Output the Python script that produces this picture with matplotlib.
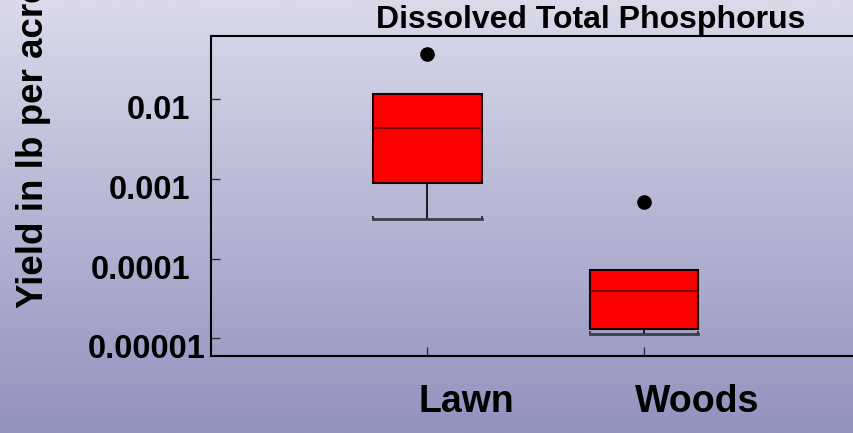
import numpy as np
import matplotlib
matplotlib.use("Agg")
import matplotlib.pyplot as plt
import matplotlib.transforms as mtransforms
from matplotlib.path import Path

plt.rcParams["font.family"] = ["Liberation Sans", "DejaVu Sans"]
plt.rcParams["font.weight"] = "bold"

# Box-plot summaries (lb per acre)
categories = ["Lawn", "Woods"]
q1 = [0.000877, 0.0000132]
median = [0.00437, 0.0000392]
q3 = [0.01165, 0.0000713]
whisker_low = [0.000313, 0.0000113]
whisker_high = [0.01165, 0.0000713]
outliers = [[0.0363], [0.000507]]

ytick_values = [0.00001, 0.0001, 0.001, 0.01]
ytick_labels = ["0.00001", "0.0001", "0.001", "0.01"]

W, H, DPI = 854, 433, 100
fig = plt.figure(figsize=(W / DPI, H / DPI), dpi=DPI)

# vertical lavender gradient background
bg = fig.add_axes([0, 0, 1, 1], zorder=-10)
top_c = np.array([218, 218, 235]) / 255
bot_c = np.array([146, 146, 190]) / 255
t = np.linspace(0, 1, 256)[:, None]
grad = top_c[None, :] * (1 - t) + bot_c[None, :] * t
bg.imshow(grad[:, None, :], aspect="auto", extent=[0, 1, 0, 1], origin="upper")
bg.set_axis_off()

ax = fig.add_axes([211 / W, 1 - 356 / H, 649.5 / W, 320 / H])
ax.set_facecolor("none")

positions = np.arange(1, len(categories) + 1)
stats = []
for i, name in enumerate(categories):
    stats.append(dict(label=name, med=median[i], q1=q1[i], q3=q3[i],
                      whislo=whisker_low[i], whishi=whisker_high[i],
                      fliers=outliers[i]))

res = ax.bxp(stats, positions=positions, widths=0.5, capwidths=0.5,
             patch_artist=True, showfliers=True,
             boxprops=dict(facecolor="#ff0000", edgecolor="#1a0000", linewidth=1.5),
             medianprops=dict(color="#7a0000", linewidth=1.5),
             whiskerprops=dict(color="black", linewidth=1.2),
             capprops=dict(color="#3c3c48", linewidth=2.0),
             flierprops=dict(marker="o", markerfacecolor="black",
                             markeredgecolor="black", markersize=9.5))

# lower caps get small upturned ends; upper caps sit on the box edge and are hidden
up_tick = Path([(0, 0), (0, 1)], [Path.MOVETO, Path.LINETO])
for k, cap in enumerate(res["caps"]):
    if k % 2 == 1:
        cap.set_visible(False)
        continue
    cap.set_marker(up_tick)
    cap.set_markersize(5)
    cap.set_markeredgewidth(1.5)
    cap.set_markeredgecolor("#3c3c48")

ax.set_yscale("log")
ax.set_ylim(10 ** -5.222, 10 ** -1.21)
ax.set_xlim(0, 3)

ax.set_yticks(ytick_values)
ax.set_yticklabels(ytick_labels)
ax.yaxis.set_minor_locator(matplotlib.ticker.NullLocator())
ax.set_xticks(positions)
ax.set_xticklabels(categories)

ax.tick_params(axis="y", direction="in", length=6.5, width=1.0, color="#303030",
               labelsize=23.5, pad=15)
ax.tick_params(axis="x", direction="in", length=6.5, width=1.0, color="#303030",
               labelsize=27, pad=20.5)

for lab in ax.get_yticklabels():
    dx = 15 if lab.get_text() == "0.00001" else 0
    lab.set_transform(lab.get_transform() +
                      mtransforms.ScaledTranslation(dx / DPI, -8 / DPI, fig.dpi_scale_trans))
for lab in ax.get_xticklabels():
    lab.set_horizontalalignment("left")
    lab.set_transform(lab.get_transform() +
                      mtransforms.ScaledTranslation(-9 / DPI, 0, fig.dpi_scale_trans))

for side in ["left", "top", "bottom"]:
    ax.spines[side].set_linewidth(1.5)
    ax.spines[side].set_color("black")
ax.spines["right"].set_visible(False)

fig.text(591 / W, 1 - 28 / H, "Dissolved Total Phosphorus", ha="center",
         va="baseline", fontsize=23, fontweight="bold")
fig.text(34 / W, 1 - 308 / H, "Yield in lb per acre", rotation=90,
         ha="center", va="bottom", fontsize=26.5, fontweight="bold")

fig.savefig("out.png", dpi=DPI)
